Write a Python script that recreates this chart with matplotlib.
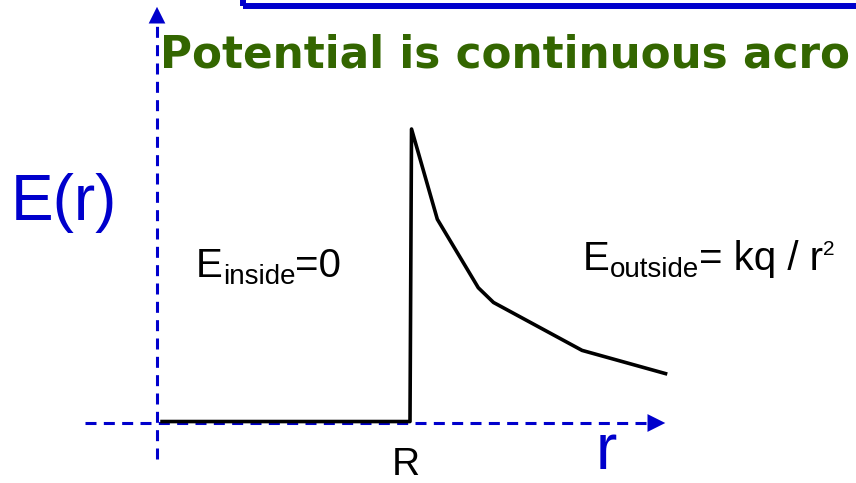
import matplotlib
matplotlib.use('Agg')
import matplotlib.pyplot as plt
from matplotlib.patches import Rectangle

# field of a charged shell, r in units of R, E scaled so the peak is 1
r_vals = [0.02, 1.0, 1.006, 1.108, 1.27, 1.33, 1.68, 2.01]
e_vals = [0.005, 0.005, 1.0, 0.693, 0.46, 0.41, 0.247, 0.168]

title = 'Potential is continuous acro'
blue = '#0000cc'
green = '#336600'

W, H = 856, 483
fig = plt.figure(figsize=(W / 100, H / 100), dpi=100)
ax = fig.add_axes([0, 0, 1, 1])
ax.set_xlim(-157 / 253, (W - 157) / 253)
ax.set_ylim(-(H - 423) / 294, 423 / 294)
ax.axis('off')


def px(x, y):
    return x / W, 1 - y / H


# blue box at the top of the slide
fig.patches.append(Rectangle(px(243, 5.5), 1.0, 0.2, transform=fig.transFigure,
                             fill=False, edgecolor=blue, lw=4.3))

# dashed axes with arrows
ax.plot([-0.285, 1.975], [0, 0], color=blue, lw=2.2, dashes=(3.6, 2.4))
ax.annotate('', xy=(2.02, 0), xytext=(1.96, 0),
            arrowprops=dict(arrowstyle='-|>', color=blue, lw=0, mutation_scale=32))
ax.plot([0, 0], [-0.122, 1.38], color=blue, lw=2.2, dashes=(3.6, 2.4))
ax.annotate('', xy=(0, 1.425), xytext=(0, 1.37),
            arrowprops=dict(arrowstyle='-|>', color=blue, lw=0, mutation_scale=30))

# the field curve
ax.plot(r_vals, e_vals, color='black', lw=2.6, solid_joinstyle='round')

fig.text(*px(160, 67), title, color=green, fontsize=31.5, fontweight='bold',
         family='DejaVu Sans')

sans = 'Liberation Sans'
fig.text(*px(11, 220), 'E(r)', color=blue, fontsize=46, family=sans)
fig.text(*px(596, 469), 'r', color=blue, fontsize=46, family=sans)
fig.text(*px(392, 475), 'R', color='black', fontsize=28, family=sans)


def runs(x, y, parts):
    # draw text pieces one after another: (text, size, dy)
    fig.canvas.draw()
    rend = fig.canvas.get_renderer()
    for s, size, dy in parts:
        t = fig.text(*px(x, y + dy), s, fontsize=size, family=sans, color='black')
        bb = t.get_window_extent(rend)
        x += bb.width


runs(196, 277, [('E', 29, 0), ('inside', 20, 7), ('=0', 29, 0)])
runs(583, 270, [('E', 29, 0), ('outside', 20, 7), ('= kq / r', 29, 0), ('2', 15, -15)])

fig.savefig('out.png', dpi=100)
